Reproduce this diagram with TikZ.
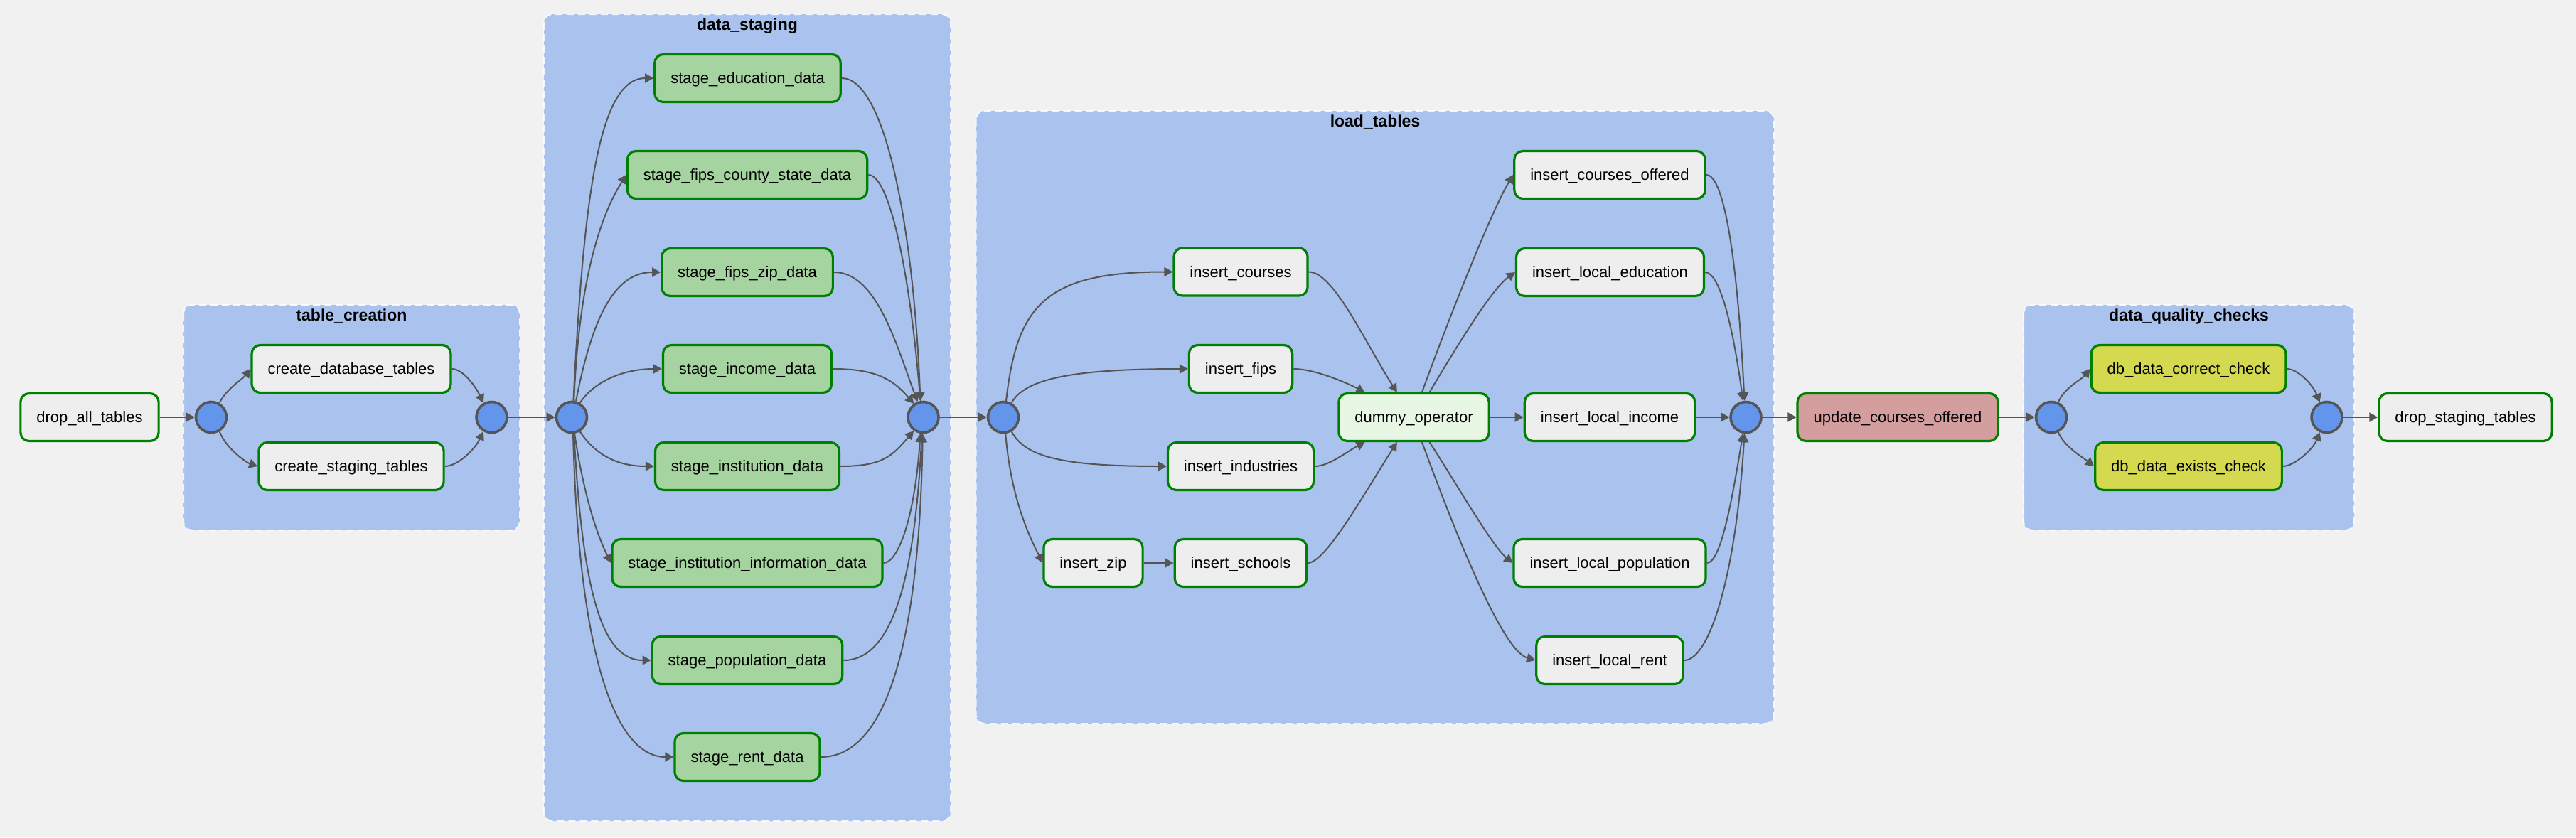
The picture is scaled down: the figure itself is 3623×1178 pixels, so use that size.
\documentclass[tikz,border=0pt]{standalone}
\usepackage{fontspec}
\setmainfont{Liberation Sans}
\usetikzlibrary{arrows.meta}
\definecolor{bgc}{HTML}{F1F1F1}
\definecolor{clblue}{HTML}{A9C3EE}
\definecolor{tgreen}{HTML}{008000}
\definecolor{tgray}{HTML}{EEEEEE}
\definecolor{stgreen}{HTML}{A5D4A0}
\definecolor{dumgreen}{HTML}{E8F7E4}
\definecolor{updred}{HTML}{D49E9E}
\definecolor{chkyel}{HTML}{D4D94F}
\definecolor{jblue}{HTML}{6495ED}
\definecolor{jgray}{HTML}{555555}
\definecolor{egray}{HTML}{555555}
\begin{document}
\begin{tikzpicture}[x=0.5pt,y=0.5pt,
  task/.style={draw=tgreen, line width=1.6pt, rounded corners=6pt, fill=tgray,
    minimum height=33.5pt, inner xsep=11.25pt, inner ysep=0pt,
    text height=9pt, text depth=1.5pt,
    font=\fontsize{11}{13}\selectfont},
  stagetask/.style={task, fill=stgreen},
  dumtask/.style={task, fill=dumgreen},
  updtask/.style={task, fill=updred},
  chktask/.style={task, fill=chkyel},
  jn/.style={circle, draw=jgray, fill=jblue, line width=1.8pt, minimum size=21.5pt, inner sep=0pt},
  e/.style={draw=egray, line width=1pt, -{Triangle[length=6pt,width=6.5pt]}},
  cluster/.style={fill=clblue, draw=white, draw opacity=0.85, dash pattern=on 5pt off 3pt,
    line width=1pt, rounded corners=6pt},
  ctitle/.style={font=\fontsize{11.5}{13}\selectfont\bfseries, anchor=base}
]
\useasboundingbox (0,0) rectangle (3623,-1178);
\fill[bgc] (0,0) rectangle (3623,-1178);

% clusters
\draw[cluster] (258,-429) rectangle (731,-746);
\node[ctitle] (t1) at (494.5,-451) {table\_creation};
\draw[cluster] (765,-20) rectangle (1337,-1155);
\node[ctitle] (t2) at (1051,-42) {data\_staging};
\draw[cluster] (1372.5,-156) rectangle (2495,-1018);
\node[ctitle] (t3) at (1934,-178) {load\_tables};
\draw[cluster] (2846,-429) rectangle (3311,-746);
\node[ctitle] (t4) at (3078.5,-451) {data\_quality\_checks};

% nodes
\node[task] (drop) at (126,-587) {drop\_all\_tables};
\node[jn] (c1) at (297,-587) {};
\node[task] (cdb) at (494,-519) {create\_database\_tables};
\node[task] (cst) at (494,-656) {create\_staging\_tables};
\node[jn] (c2) at (691.5,-587) {};

\node[jn] (c3) at (804,-587) {};
\node[stagetask] (s1) at (1051.5,-110) {stage\_education\_data};
\node[stagetask] (s2) at (1051,-246) {stage\_fips\_county\_state\_data};
\node[stagetask] (s3) at (1051,-383) {stage\_fips\_zip\_data};
\node[stagetask] (s4) at (1051,-519) {stage\_income\_data};
\node[stagetask] (s5) at (1051,-656) {stage\_institution\_data};
\node[stagetask] (s6) at (1051,-792) {stage\_institution\_information\_data};
\node[stagetask] (s7) at (1051,-929) {stage\_population\_data};
\node[stagetask] (s8) at (1051,-1065) {stage\_rent\_data};
\node[jn] (c4) at (1298.5,-587) {};

\node[jn] (c5) at (1411,-587) {};
\node[task] (ic) at (1745,-382.5) {insert\_courses};
\node[task] (ifp) at (1745,-519) {insert\_fips};
\node[task] (iin) at (1745,-656) {insert\_industries};
\node[task] (iz) at (1537.5,-792) {insert\_zip};
\node[task] (isch) at (1745,-792) {insert\_schools};
\node[dumtask] (dum) at (1988.5,-587) {dummy\_operator};
\node[task] (ico) at (2264,-246) {insert\_courses\_offered};
\node[task] (ile) at (2264.5,-383) {insert\_local\_education};
\node[task] (ili) at (2264,-587) {insert\_local\_income};
\node[task] (ilp) at (2264,-792) {insert\_local\_population};
\node[task] (ilr) at (2264,-929) {insert\_local\_rent};
\node[jn] (c6) at (2455.5,-587) {};

\node[updtask] (upd) at (2669,-587) {update\_courses\_offered};
\node[jn] (c7) at (2885,-587) {};
\node[chktask] (dc) at (3078,-519) {db\_data\_correct\_check};
\node[chktask] (de) at (3078,-656) {db\_data\_exists\_check};
\node[jn] (c8) at (3272.5,-587) {};
\node[task] (dst) at (3467.5,-587) {drop\_staging\_tables};

% edges: table_creation
\draw[e] (drop) -- (c1);
\draw[e] (c1.60) .. controls +(10,20) and +(-12,-15) .. (cdb.west);
\draw[e] (c1.-60) .. controls +(10,-25) and +(-15,5) .. (cst.west);
\draw[e] (cdb.east) .. controls +(15,0) and +(-12,25) .. (c2.120);
\draw[e] (cst.east) .. controls +(18,0) and +(-12,-25) .. (c2.-120);
\draw[e] (c2) -- (c3);

% edges: data_staging
\draw[e] (c3.84) .. controls +(15,300) and +(-75,0) .. (s1.west);
\draw[e] (c3.82) .. controls +(8,200) and +(-25,-40) .. (s2.west);
\draw[e] (c3.75) .. controls +(25,130) and +(-60,0) .. (s3.west);
\draw[e] (c3.60) .. controls +(20,30) and +(-55,0) .. (s4.west);
\draw[e] (c3.-60) .. controls +(20,-30) and +(-55,0) .. (s5.west);
\draw[e] (c3.-80) .. controls +(15,-100) and +(-15,30) .. (s6.west);
\draw[e] (c3.-82) .. controls +(12,-220) and +(-70,0) .. (s7.west);
\draw[e] (c3.-85) .. controls +(8,-320) and +(-80,0) .. (s8.west);

\draw[e] (s1.east) .. controls +(60,0) and +(-10,250) .. (c4.100);
\draw[e] (s2.east) .. controls +(30,0) and +(-15,180) .. (c4.100);
\draw[e] (s3.east) .. controls +(60,0) and +(-30,80) .. (c4.110);
\draw[e] (s4.east) .. controls +(60,0) and +(-30,35) .. (c4.125);
\draw[e] (s5.east) .. controls +(60,0) and +(-30,-35) .. (c4.-125);
\draw[e] (s6.east) .. controls +(20,0) and +(-8,-120) .. (c4.-100);
\draw[e] (s7.east) .. controls +(70,0) and +(-10,-200) .. (c4.-95);
\draw[e] (s8.east) .. controls +(90,0) and +(-5,-300) .. (c4.-92);
\draw[e] (c4) -- (c5);

% edges: load_tables
\draw[e] (c5.80) .. controls +(15,134) and +(-180,0) .. (ic.west);
\draw[e] (c5.60) .. controls +(18,32) and +(-171,0) .. (ifp.west);
\draw[e] (c5.-60) .. controls +(18,-32) and +(-160,0) .. (iin.west);
\draw[e] (c5.-82) .. controls +(8,-100) and +(-12,25) .. (iz.west);
\draw[e] (iz) -- (isch);

\draw[e] (ic.east) .. controls +(35,0) and +(-45,70) .. (dum.124);
\draw[e] (ifp.east) .. controls +(30,0) and +(-25,13) .. (dum.153);
\draw[e] (iin.east) .. controls +(20,0) and +(-25,-13) .. (dum.207);
\draw[e] (isch.east) .. controls +(25,0) and +(-45,-70) .. (dum.236);

\draw[e] (dum.72) .. controls +(40,110) and +(-30,-50) .. (ico.west);
\draw[e] (dum.58) .. controls +(30,50) and +(-35,-25) .. (ile.west);
\draw[e] (dum) -- (ili);
\draw[e] (dum.-58) .. controls +(30,-45) and +(-30,25) .. (ilp.west);
\draw[e] (dum.-72) .. controls +(35,-95) and +(-50,15) .. (ilr.west);

\draw[e] (ico.east) .. controls +(25,0) and +(-10,200) .. (c6.95);
\draw[e] (ile.east) .. controls +(20,0) and +(-15,110) .. (c6.100);
\draw[e] (ili) -- (c6);
\draw[e] (ilp.east) .. controls +(20,0) and +(-15,-90) .. (c6.-100);
\draw[e] (ilr.east) .. controls +(35,0) and +(-12,-200) .. (c6.-95);

% edges: tail
\draw[e] (c6) -- (upd);
\draw[e] (upd) -- (c7);
\draw[e] (c7.65) .. controls +(8,20) and +(-12,-15) .. (dc.west);
\draw[e] (c7.-65) .. controls +(8,-20) and +(-15,12) .. (de.west);
\draw[e] (dc.east) .. controls +(15,0) and +(-10,25) .. (c8.115);
\draw[e] (de.east) .. controls +(15,0) and +(-10,-25) .. (c8.-115);
\draw[e] (c8) -- (dst);
\end{tikzpicture}
\end{document}
